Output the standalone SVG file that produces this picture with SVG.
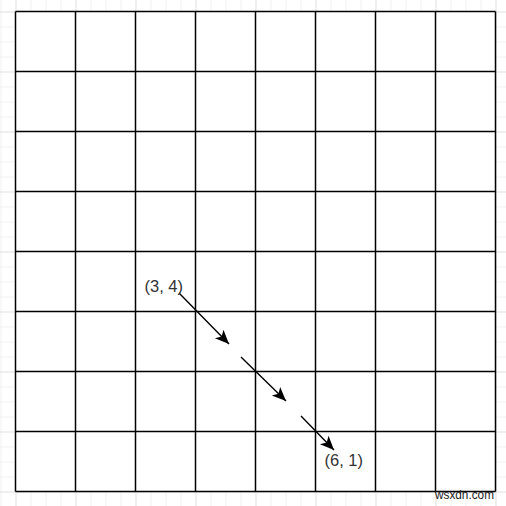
<svg xmlns="http://www.w3.org/2000/svg" width="506" height="506" viewBox="0 0 506 506">
<style>
.lbl{font-family:"Liberation Sans",Arial,sans-serif;font-size:16.5px;fill:#333}
.wm{font-family:"Liberation Sans",Arial,sans-serif;font-size:13px;fill:#222}
.grid{stroke:#000;stroke-width:1.5;fill:none}
.arr{stroke:#000;stroke-width:1.4;fill:none;marker-end:url(#ah)}
</style>
<defs>
<pattern id="bg" x="15.5" y="11.5" width="60" height="60" patternUnits="userSpaceOnUse">
<path d="M15.5,0V60M30.5,0V60M45.5,0V60M0,15.5H60M0,30.5H60M0,45.5H60" stroke="#f0f0f0" stroke-width="1" fill="none"/>
<path d="M0.5,0V60M0,0.5H60" stroke="#dedede" stroke-width="1" fill="none"/>
</pattern>
<marker id="ah" viewBox="-15 -7 16 14" refX="0" refY="0" markerWidth="16" markerHeight="14" markerUnits="userSpaceOnUse" orient="auto">
<path d="M0,0 L-14,-6 L-10.5,0 L-14,6 Z" fill="#000"/>
</marker>
</defs>
<rect width="506" height="506" fill="#fff"/>
<rect width="506" height="506" fill="url(#bg)"/>
<g id="board">
<rect x="15.5" y="11.5" width="480" height="480" fill="#fff"/>
<path class="grid" d="M15.5,11.5V491.5M75.5,11.5V491.5M135.5,11.5V491.5M195.5,11.5V491.5M255.5,11.5V491.5M315.5,11.5V491.5M375.5,11.5V491.5M435.5,11.5V491.5M495.5,11.5V491.5M15.5,11.5H495.5M15.5,71.5H495.5M15.5,131.5H495.5M15.5,191.5H495.5M15.5,251.5H495.5M15.5,311.5H495.5M15.5,371.5H495.5M15.5,431.5H495.5M15.5,491.5H495.5"/>
</g>
<g id="connectors">
<path class="arr" d="M179,293 L229,344"/>
<path class="arr" d="M241,357 L286,401"/>
<path class="arr" d="M301,416 L334,450"/>
</g>
<g id="start">
<text class="lbl" x="144.5" y="291.5">(3, 4)</text>
</g>
<g id="end">
<text class="lbl" x="324.5" y="466">(6, 1)</text>
</g>
<text class="wm" x="435" y="499" textLength="59" lengthAdjust="spacingAndGlyphs">wsxdn.com</text>
</svg>
